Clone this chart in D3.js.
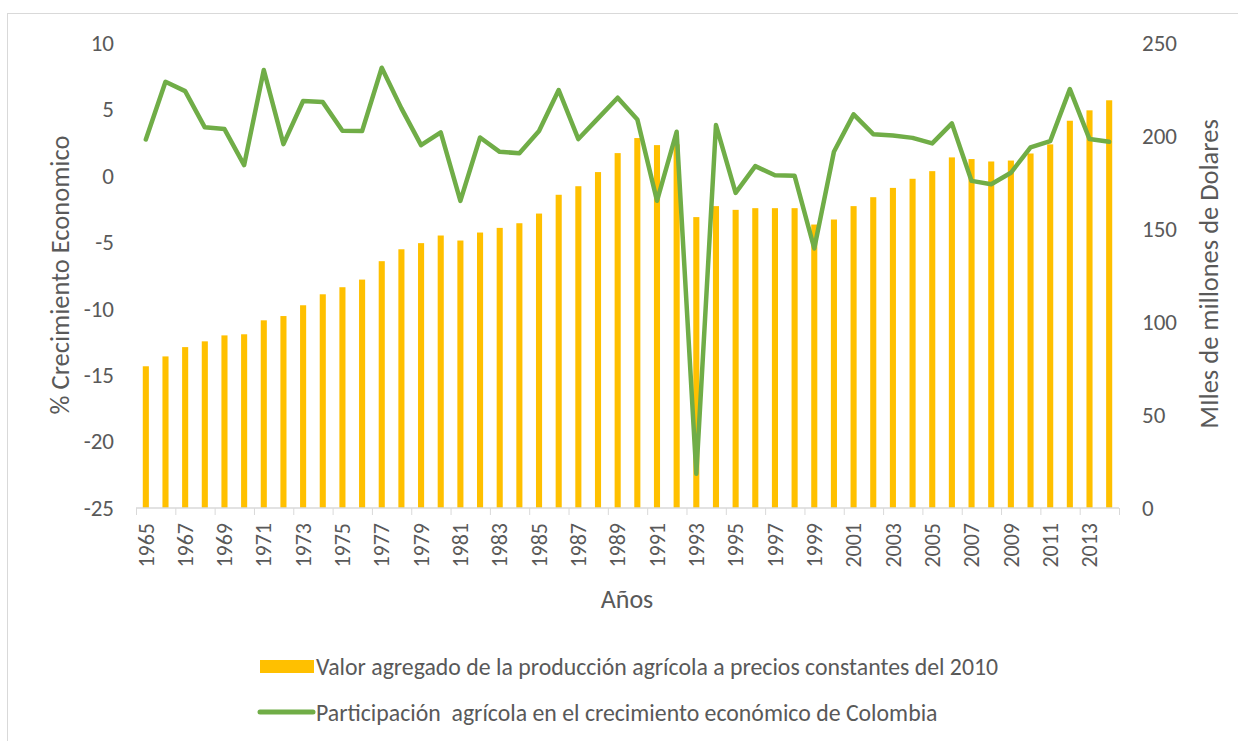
<!DOCTYPE html>
<html>
<head>
<meta charset="utf-8">
<script src="https://cdn.jsdelivr.net/npm/d3@7"></script>
<style>
  body { margin: 0; background: #fff; }
  text { font-family: Carlito, "Liberation Sans Narrow", Roboto, sans-serif; fill: #595959; }
</style>
</head>
<body>
<svg width="1238" height="741"></svg>
<script>
// datos
var years = d3.range(1965, 2015);

// valor agregado (miles de millones de dolares, eje derecho)
var valorAgregado = [76.2, 81.5, 86.5, 89.6, 92.8, 93.4, 100.9, 103.2, 109, 114.9,
  118.7, 122.8, 132.7, 139.1, 142.4, 146.5, 143.8, 148.1, 150.6, 153.1,
  158.3, 168.4, 173, 180.6, 190.8, 198.9, 195.1, 195.5, 156.4, 162.3,
  160.3, 161.2, 161.2, 161.2, 152.4, 155.1, 162.3, 167.1, 172.1, 177,
  181.1, 188.5, 187.6, 186.3, 186.8, 190.6, 195.5, 208.2, 213.8, 219.2];

// participacion agricola (% crecimiento, eje izquierdo)
var participacion = [2.74, 7.08, 6.38, 3.65, 3.52, 0.81, 7.97, 2.39, 5.63, 5.55,
  3.39, 3.37, 8.14, 5.08, 2.31, 3.27, -1.88, 2.89, 1.81, 1.71,
  3.37, 6.46, 2.77, 4.33, 5.88, 4.25, -1.88, 3.32, -22.43, 3.82,
  -1.28, 0.73, 0.05, 0.0, -5.47, 1.81, 4.63, 3.14, 3.04, 2.86,
  2.44, 3.95, -0.38, -0.63, 0.23, 2.14, 2.61, 6.53, 2.77, 2.56];

var leftTicks = [-25, -20, -15, -10, -5, 0, 5, 10];
var rightTicks = [0, 50, 100, 150, 200, 250];

var svg = d3.select("svg");

// marco del grafico
svg.append("rect")
  .attr("x", 7.5).attr("y", 13.5)
  .attr("width", 1240).attr("height", 740)
  .attr("fill", "none").attr("stroke", "#D9D9D9");

var plotLeft = 136, plotRight = 1119, plotTop = 43, plotBottom = 508;

var x = d3.scaleBand()
  .domain(years)
  .range([plotLeft, plotRight])
  .paddingInner(0.69)
  .paddingOuter(0.345);

var yL = d3.scaleLinear().domain([-25, 10]).range([plotBottom, plotTop]);
var yR = d3.scaleLinear().domain([0, 250]).range([plotBottom, plotTop]);

// barras
svg.append("g").selectAll("rect")
  .data(valorAgregado)
  .enter()
  .append("rect")
  .attr("x", function(d, i) { return x(years[i]); })
  .attr("y", function(d) { return yR(d); })
  .attr("width", x.bandwidth())
  .attr("height", function(d) { return yR(0) - yR(d); })
  .attr("fill", "#FFC000");

// eje x: marcas entre categorias
var xb = d3.scaleLinear().domain([0, years.length]).range([plotLeft, plotRight]);
var xTicks = svg.append("g")
  .attr("transform", "translate(0," + plotBottom + ")")
  .call(d3.axisBottom(xb).tickValues(d3.range(0, years.length + 1, 2)).tickSize(7).tickFormat(""));
xTicks.selectAll("line, path").attr("stroke", "#D9D9D9");
xTicks.select(".domain").attr("d", "M" + plotLeft + ",0H" + plotRight).attr("stroke-width", 1.3);

// etiquetas de anos
var xLabels = svg.append("g")
  .attr("transform", "translate(0," + plotBottom + ")")
  .call(d3.axisBottom(x).tickValues(years.filter(function(d) { return (d - 1965) % 2 === 0; })).tickSize(0));
xLabels.select(".domain").remove();
xLabels.selectAll("text")
  .attr("transform", "rotate(-90)")
  .attr("x", -15)
  .attr("y", 0)
  .attr("dy", "0.35em")
  .style("text-anchor", "end")
  .style("font-size", "22px")
  .style("font-family", null);

// eje izquierdo
var axL = svg.append("g")
  .attr("transform", "translate(" + plotLeft + ",0)")
  .call(d3.axisLeft(yL).tickValues(leftTicks).tickSize(0).tickPadding(22).tickFormat(function(d) { return String(d); }));
axL.select(".domain").remove();
axL.selectAll("text").style("font-size", "23px").style("font-family", null);

// eje derecho
var axR = svg.append("g")
  .attr("transform", "translate(" + plotRight + ",0)")
  .call(d3.axisRight(yR).tickValues(rightTicks).tickSize(0).tickPadding(23));
axR.select(".domain").remove();
axR.selectAll("text").style("font-size", "23px").style("font-family", null);

// linea
var line = d3.line()
  .x(function(d, i) { return x(years[i]) + x.bandwidth() / 2; })
  .y(function(d) { return yL(d); });

svg.append("path")
  .datum(participacion)
  .attr("d", line)
  .attr("fill", "none")
  .attr("stroke", "#70AD47")
  .attr("stroke-width", 4.5)
  .attr("stroke-linejoin", "round")
  .attr("stroke-linecap", "round");

// titulos de ejes
svg.append("text")
  .attr("transform", "translate(69,275) rotate(-90)")
  .attr("text-anchor", "middle")
  .style("font-size", "26.5px")
  .text("% Crecimiento Economico");

svg.append("text")
  .attr("transform", "translate(1218,274) rotate(-90)")
  .attr("text-anchor", "middle")
  .style("font-size", "26.5px")
  .text("MIles de millones de Dolares");

svg.append("text")
  .attr("x", 627).attr("y", 608)
  .attr("text-anchor", "middle")
  .style("font-size", "26px")
  .text("Años");

// leyenda
var legend = svg.append("g");
legend.append("rect")
  .attr("x", 260).attr("y", 660).attr("width", 54).attr("height", 13)
  .attr("fill", "#FFC000");
legend.append("text")
  .attr("x", 316).attr("y", 675)
  .style("font-size", "23.8px")
  .text("Valor agregado de la producción agrícola a precios constantes del 2010");
legend.append("line")
  .attr("x1", 260).attr("x2", 313).attr("y1", 712).attr("y2", 712)
  .attr("stroke", "#70AD47").attr("stroke-width", 5).attr("stroke-linecap", "round");
legend.append("text")
  .attr("x", 316).attr("y", 721)
  .style("font-size", "23.8px")
  .attr("xml:space", "preserve")
  .text("Participación  agrícola en el crecimiento económico de Colombia");
</script>
</body>
</html>
